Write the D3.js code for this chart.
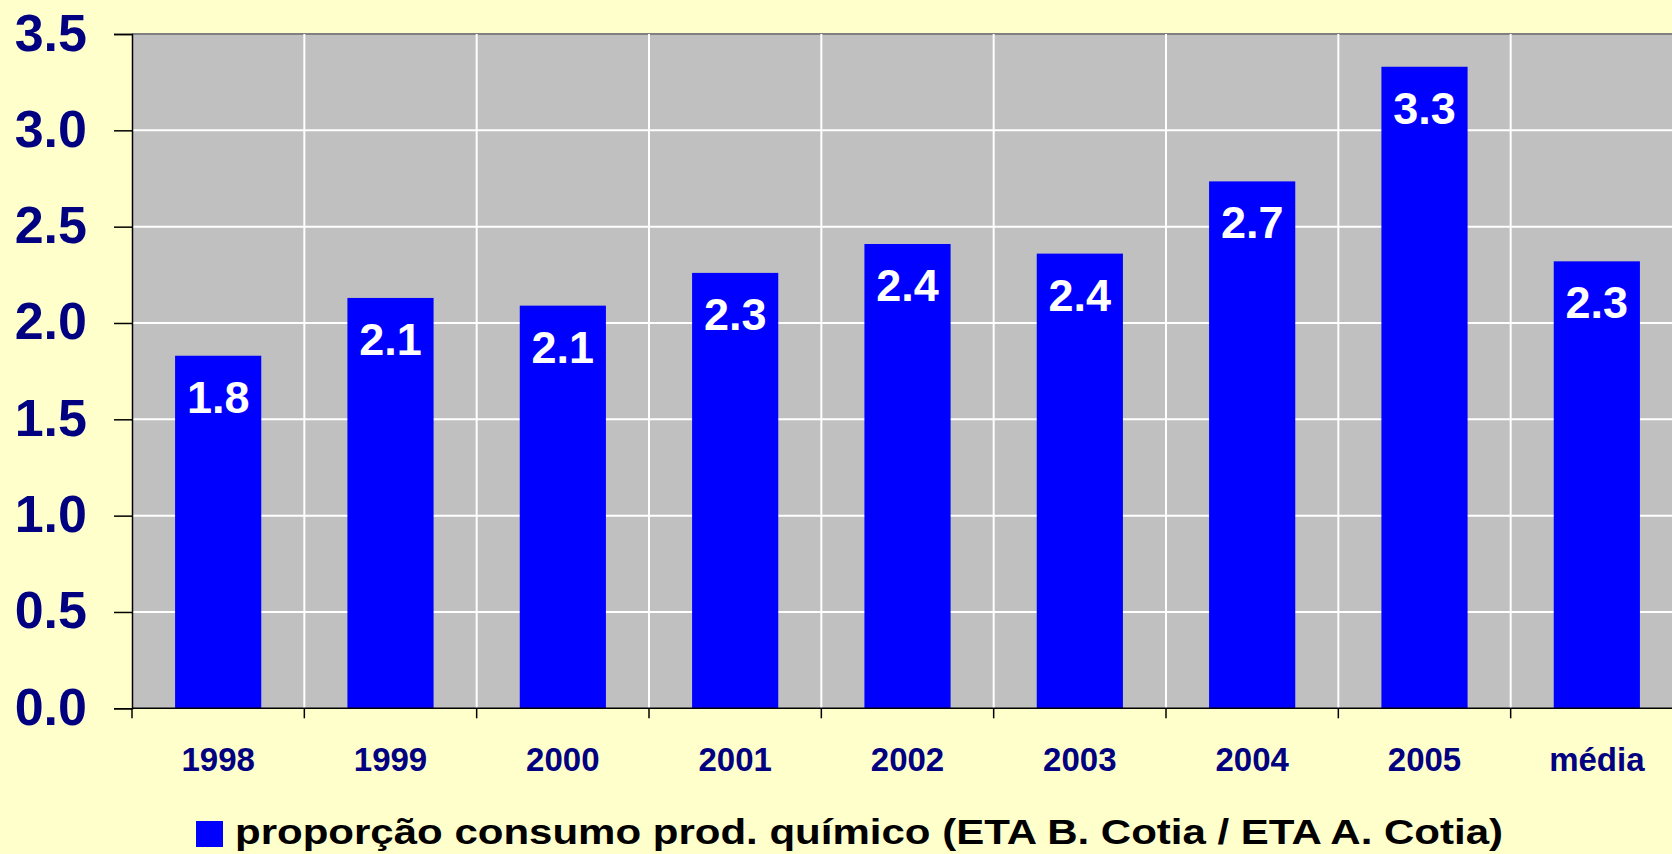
<!DOCTYPE html>
<html><head><meta charset="utf-8">
<script src="https://cdn.jsdelivr.net/npm/d3@7"></script>
<style>
html,body{margin:0;padding:0;background:#FFFFCC;overflow:hidden}
text{font-family:"Liberation Sans",Arial,sans-serif;font-weight:bold}
</style></head>
<body>
<svg id="c" width="1672" height="854"></svg>
<script>
const categories = ["1998","1999","2000","2001","2002","2003","2004","2005","média"];
const values = [1.83, 2.13, 2.09, 2.26, 2.41, 2.36, 2.735, 3.33, 2.32];
const yTicks = [0, 0.5, 1.0, 1.5, 2.0, 2.5, 3.0, 3.5];
const seriesName = "proporção consumo prod. químico (ETA B. Cotia / ETA A. Cotia)";

(function(){
const svg = d3.select("#c");
const W = 1672, H = 854;
svg.append("rect").attr("width", W).attr("height", H).attr("fill", "#FFFFCC");

const pl = 132, pr = 1683, pt = 34, pb = 708.3;
const x = d3.scaleBand().domain(categories).range([pl, pr]).paddingInner(0).paddingOuter(0);
const y = d3.scaleLinear().domain([0, 3.5]).range([pb, pt]);

// plot area
svg.append("rect").attr("x", pl).attr("y", pt).attr("width", pr - pl).attr("height", pb - pt).attr("fill", "#C0C0C0");
svg.append("line").attr("x1", pl).attr("x2", pr).attr("y1", pt).attr("y2", pt).attr("stroke", "#808080").attr("stroke-width", 2);

// horizontal gridlines
svg.append("g").selectAll("line").data(yTicks.filter(d => d > 0 && d < 3.5)).join("line")
  .attr("x1", pl).attr("x2", pr).attr("y1", d => y(d)).attr("y2", d => y(d))
  .attr("stroke", "#FFFFFF").attr("stroke-width", 2);
// vertical gridlines at category boundaries
svg.append("g").selectAll("line").data(categories.slice(1)).join("line")
  .attr("x1", d => x(d)).attr("x2", d => x(d)).attr("y1", pt).attr("y2", pb)
  .attr("stroke", "#FFFFFF").attr("stroke-width", 2);

// bars
const bw = x.bandwidth() * 0.5;
svg.append("g").selectAll("rect").data(values).join("rect")
  .attr("x", (d, i) => x(categories[i]) + (x.bandwidth() - bw) / 2)
  .attr("width", bw)
  .attr("y", d => y(d))
  .attr("height", d => pb - y(d))
  .attr("fill", "#0000FF");

// bar labels
const fmt = d3.format(".1f");
svg.append("g").selectAll("text").data(values).join("text")
  .attr("x", (d, i) => x(categories[i]) + x.bandwidth() / 2)
  .attr("y", d => y(d) + 57)
  .attr("text-anchor", "middle")
  .attr("fill", "#FFFFFF")
  .attr("font-size", 45)
  .text(d => fmt(d));

// y axis
const yAxis = d3.axisLeft(y).tickValues(yTicks).tickFormat(d3.format(".1f")).tickSize(18).tickPadding(27);
const gy = svg.append("g").attr("transform", `translate(${pl},0)`).call(yAxis);
gy.select(".domain").attr("stroke", "#000").attr("stroke-width", 1.5);
gy.selectAll(".tick line").attr("stroke", "#000").attr("stroke-width", 1.5);
gy.selectAll(".tick text").attr("fill", "#000080").attr("font-size", 52)
  .attr("font-family", "'Liberation Sans',Arial,sans-serif").attr("font-weight", "bold").attr("dy", 16);

// x axis
const boundaries = categories.map(c => x(c));
svg.append("line").attr("x1", pl).attr("x2", pr).attr("y1", pb).attr("y2", pb).attr("stroke", "#000").attr("stroke-width", 1.5);
svg.append("g").selectAll("line").data(boundaries).join("line")
  .attr("x1", d => d).attr("x2", d => d).attr("y1", pb).attr("y2", pb + 10)
  .attr("stroke", "#000").attr("stroke-width", 1.5);
svg.append("g").selectAll("text").data(categories).join("text")
  .attr("x", d => x(d) + x.bandwidth() / 2)
  .attr("y", 770.7)
  .attr("text-anchor", "middle")
  .attr("fill", "#000080")
  .attr("font-size", 33)
  .text(d => d);

// legend
svg.append("rect").attr("x", 196).attr("y", 821).attr("width", 27).attr("height", 26).attr("fill", "#0000FF");
svg.append("text").attr("x", 235).attr("y", 843.5).attr("fill", "#000").attr("font-size", 35)
  .attr("textLength", 1268).attr("lengthAdjust", "spacingAndGlyphs").text(seriesName);
})();
</script>
</body></html>
